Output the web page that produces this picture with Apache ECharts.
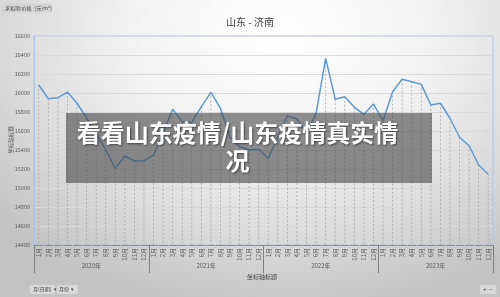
<!DOCTYPE html>
<html>
<head>
<meta charset="utf-8">
<script src="https://cdn.jsdelivr.net/npm/echarts@6/dist/echarts.min.js"></script>
<style>
html,body{margin:0;padding:0;width:500px;height:297px;overflow:hidden;}
body{background:radial-gradient(ellipse 75% 95% at 56% 12%, #ffffff 0%, #f2f2f2 40%, #dcdcdc 70%, #c2c2c2 100%);}
#c{width:500px;height:297px;}
</style>
</head>
<body>
<div id="c"></div>
<script>
const years = ['2020年', '2021年', '2022年', '2023年'];
const months = ['1月','2月','3月','4月','5月','6月','7月','8月','9月','10月','11月','12月'];
const prices = [
  16084, 15940, 15951, 16010, 15892, 15737, 15579, 15400, 15207, 15337, 15284, 15288,
  15347, 15579, 15829, 15698, 15690, 15856, 16007, 15839, 15534, 15435, 15400, 15407,
  15312, 15540, 15761, 15726, 15576, 15786, 16365, 15934, 15961, 15849, 15776, 15884,
  15709, 16014, 16144, 16119, 16091, 15874, 15892, 15734, 15534, 15445, 15242, 15144
];
const yTicks = {min: 14400, max: 16600, step: 200};

const categories = [];
years.forEach(y => months.forEach(m => categories.push(y + '|' + m)));

const chart = echarts.init(document.getElementById('c'), null, {renderer: 'canvas'});
const FONT = '"Noto Sans CJK SC", "Noto Sans", sans-serif';

chart.setOption({
  animation: false,
  backgroundColor: 'transparent',
  textStyle: {fontFamily: FONT},
  grid: {left: 34, right: 7, top: 36, bottom: 52, show: true, borderColor: '#a9c6e8', borderWidth: 1, backgroundColor: 'transparent'},
  xAxis: [
    {
      type: 'category', data: categories, boundaryGap: true,
      axisLine: {show: true, lineStyle: {color: '#8c8c8c', width: 1}},
      axisTick: {show: true, length: 3, lineStyle: {color: '#c4c4c4'}},
      axisLabel: {rotate: 90, interval: 0, fontSize: 6, color: '#595959', margin: 3, fontFamily: FONT,
        formatter: v => v.split('|')[1]},
      splitLine: {show: false}
    },
    {
      type: 'category', data: years, position: 'bottom', boundaryGap: true,
      axisLine: {show: false},
      axisTick: {show: true, length: 28, lineStyle: {color: '#7f7f7f', width: 1}},
      axisLabel: {fontSize: 6, color: '#595959', margin: 18, fontFamily: FONT},
      splitLine: {show: false}
    }
  ],
  yAxis: {
    type: 'value', min: yTicks.min, max: yTicks.max, interval: yTicks.step,
    axisLine: {show: true, lineStyle: {color: '#a9c6e8'}},
    axisTick: {show: false},
    axisLabel: {fontSize: 5.5, color: '#595959', margin: 4, fontFamily: FONT, formatter: v => String(v)},
    splitLine: {show: true, lineStyle: {color: '#d9d9d9', width: 1}}
  },
  series: [
    {
      type: 'custom',
      data: prices.map((v, i) => [i, v]),
      encode: {x: 0, y: 1},
      silent: true,
      z: 1,
      renderItem: function (params, api) {
        const i = api.value(0), v = api.value(1);
        const top = api.coord([i, v]);
        const bot = api.coord([i, yTicks.min]);
        return {type: 'line', shape: {x1: top[0], y1: top[1], x2: bot[0], y2: bot[1]},
          style: {stroke: '#a6a6a6', lineWidth: 0.8, lineDash: [2, 2]}};
      }
    },
    {
      type: 'line', data: prices, showSymbol: false, symbol: 'none', z: 3,
      lineStyle: {color: '#5b9bd5', width: 1.5},
      itemStyle: {color: '#5b9bd5'}
    }
  ],
  graphic: [
    {type: 'text', left: 'center', top: 17, style: {text: '山东 - 济南', font: '10px ' + FONT, fill: '#404040'}},
    {type: 'rect', shape: {x: 3, y: 4, width: 49, height: 8}, style: {fill: '#d6d6d6', stroke: '#c8c8c8', lineWidth: 0.5}},
    {type: 'text', x: 5, y: 8, style: {text: '求和项:价格（元/m²）', font: '5px ' + FONT, fill: '#404040', textVerticalAlign: 'middle'}},
    {type: 'text', x: 11, y: 140, rotation: Math.PI / 2, style: {text: '坐标轴标题', font: '5.5px ' + FONT, fill: '#595959', textAlign: 'center', textVerticalAlign: 'middle'}},
    {type: 'text', x: 262, y: 277, style: {text: '坐标轴标题', font: '6px ' + FONT, fill: '#404040', textAlign: 'center', textVerticalAlign: 'middle'}},
    {type: 'rect', shape: {x: 30, y: 285, width: 25, height: 9}, style: {fill: '#d9d9d9', stroke: '#cccccc', lineWidth: 0.5}},
    {type: 'text', x: 33, y: 289.5, style: {text: '月(日期)  ▾', font: '5px ' + FONT, fill: '#404040', textVerticalAlign: 'middle'}},
    {type: 'rect', shape: {x: 57, y: 285, width: 21, height: 9}, style: {fill: '#d9d9d9', stroke: '#cccccc', lineWidth: 0.5}},
    {type: 'text', x: 59, y: 289.5, style: {text: '月份  ▾', font: '5px ' + FONT, fill: '#404040', textVerticalAlign: 'middle'}},
    {type: 'rect', shape: {x: 480, y: 285, width: 16, height: 9}, style: {fill: '#d9d9d9', stroke: '#cccccc', lineWidth: 0.5}},
    {type: 'text', x: 488, y: 289.5, style: {text: '+  −', font: '6px ' + FONT, fill: '#404040', textAlign: 'center', textVerticalAlign: 'middle'}},
    {type: 'rect', z: 100, shape: {x: 66, y: 113, width: 366, height: 70}, style: {fill: 'rgba(70,70,70,0.6)'}},
    {type: 'text', z: 101, x: 237.5, y: 147, style: {text: '看看山东疫情/山东疫情真实情\n况', font: 'bold 24px ' + FONT, fill: '#ffffff', textAlign: 'center', textVerticalAlign: 'middle', lineHeight: 28, textShadowColor: 'rgba(0,0,0,0.5)', textShadowBlur: 2, textShadowOffsetX: 1, textShadowOffsetY: 1}}
  ]
});
</script>
</body>
</html>
